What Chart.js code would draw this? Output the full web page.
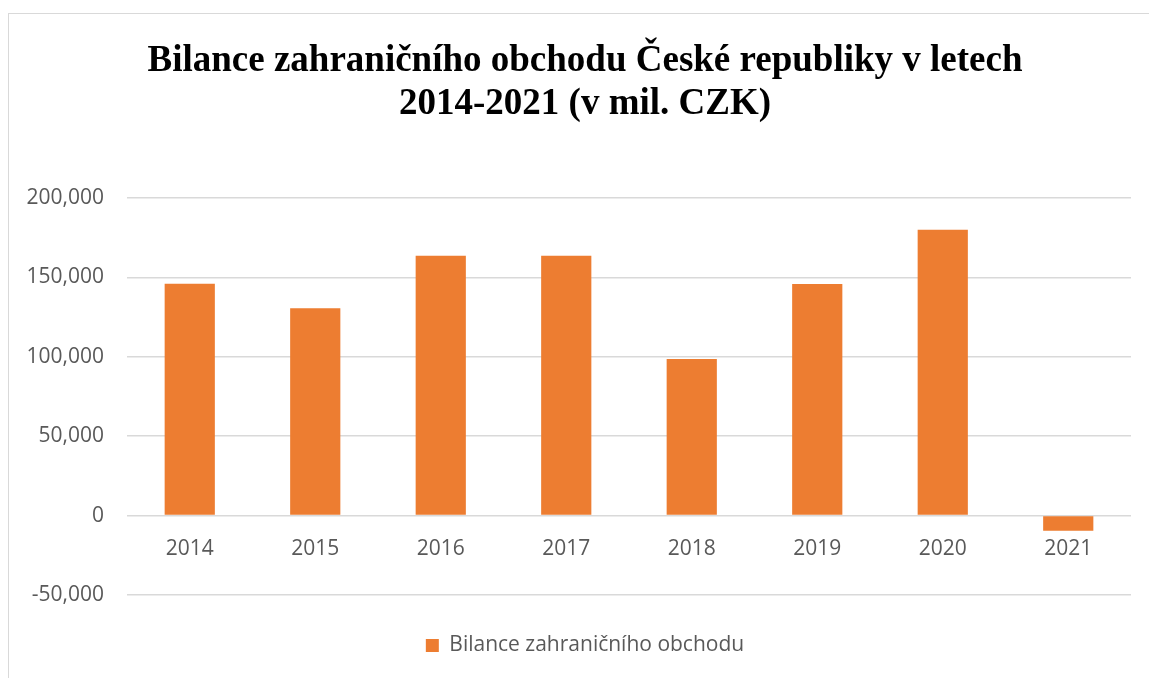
<!DOCTYPE html>
<html>
<head>
<meta charset="utf-8">
<script src="https://cdn.jsdelivr.net/npm/chart.js@4"></script>
<style>
    html, body { margin: 0; padding: 0; background: #fff; overflow: hidden; }
    body { width: 1149px; height: 678px; position: relative; }
    #frame { position: absolute; left: 8px; top: 13px; width: 1200px; height: 720px; border: 1px solid #d9d9d9; }
    #wrap { position: absolute; left: 0; top: 0; width: 1149px; height: 678px; }
</style>
</head>
<body>
<div id="frame"></div>
<div id="wrap"><canvas id="tradeChart"></canvas></div>
<script>
const years = ['2014', '2015', '2016', '2017', '2018', '2019', '2020', '2021'];
const balance = [146000, 130500, 163500, 163500, 98600, 145700, 179900, -9500];
const yTicks = [-50000, 0, 50000, 100000, 150000, 200000];
const chartTitle = ['Bilance zahraničního obchodu České republiky v letech', '2014-2021 (v mil. CZK)'];
const seriesName = 'Bilance zahraničního obchodu';

const labelFont = { family: 'Open Sans', size: 21 };
const gray = '#595959';

const ctx = document.getElementById('tradeChart').getContext('2d');
const chart = new Chart(ctx, {
    type: 'bar',
    data: {
        labels: years,
        datasets: [{
            label: seriesName,
            data: balance,
            backgroundColor: '#ED7D31',
            borderWidth: 0,
            categoryPercentage: 1,
            barPercentage: 0.4
        }]
    },
    options: {
        responsive: true,
        maintainAspectRatio: false,
        animation: false,
        layout: {
            padding: { left: 21, right: 0, top: 0, bottom: 12 }
        },
        plugins: {
            title: {
                display: true,
                text: chartTitle,
                color: '#000',
                font: { family: 'Liberation Serif', size: 37, weight: 'bold', lineHeight: 1.16 },
                padding: { top: 40, bottom: 72 }
            },
            legend: {
                position: 'bottom',
                labels: {
                    color: gray,
                    font: labelFont,
                    boxWidth: 13,
                    boxHeight: 13,
                    padding: 40
                }
            },
            tooltip: { enabled: false }
        },
        scales: {
            x: {
                position: { y: 0 },
                grid: { display: false },
                border: { display: false },
                ticks: { color: gray, font: labelFont, padding: 13 }
            },
            y: {
                min: -50000,
                max: 200000,
                afterBuildTicks: scale => {
                    scale.ticks = yTicks.map(v => ({ value: v }));
                },
                afterFit: scale => {
                    scale.width = 106;
                },
                grid: { color: '#d9d9d9', lineWidth: 1.5, drawTicks: false },
                border: { display: false },
                ticks: {
                    color: gray,
                    font: labelFont,
                    padding: 23,
                    callback: v => v.toLocaleString('en-US')
                }
            },
            // empty right axis, only keeps a margin so title and legend sit where they should
            yRight: {
                position: 'right',
                grid: { display: false },
                border: { display: false },
                ticks: { display: false },
                afterFit: scale => {
                    scale.width = 18;
                }
            }
        }
    }
});
</script>
</body>
</html>
